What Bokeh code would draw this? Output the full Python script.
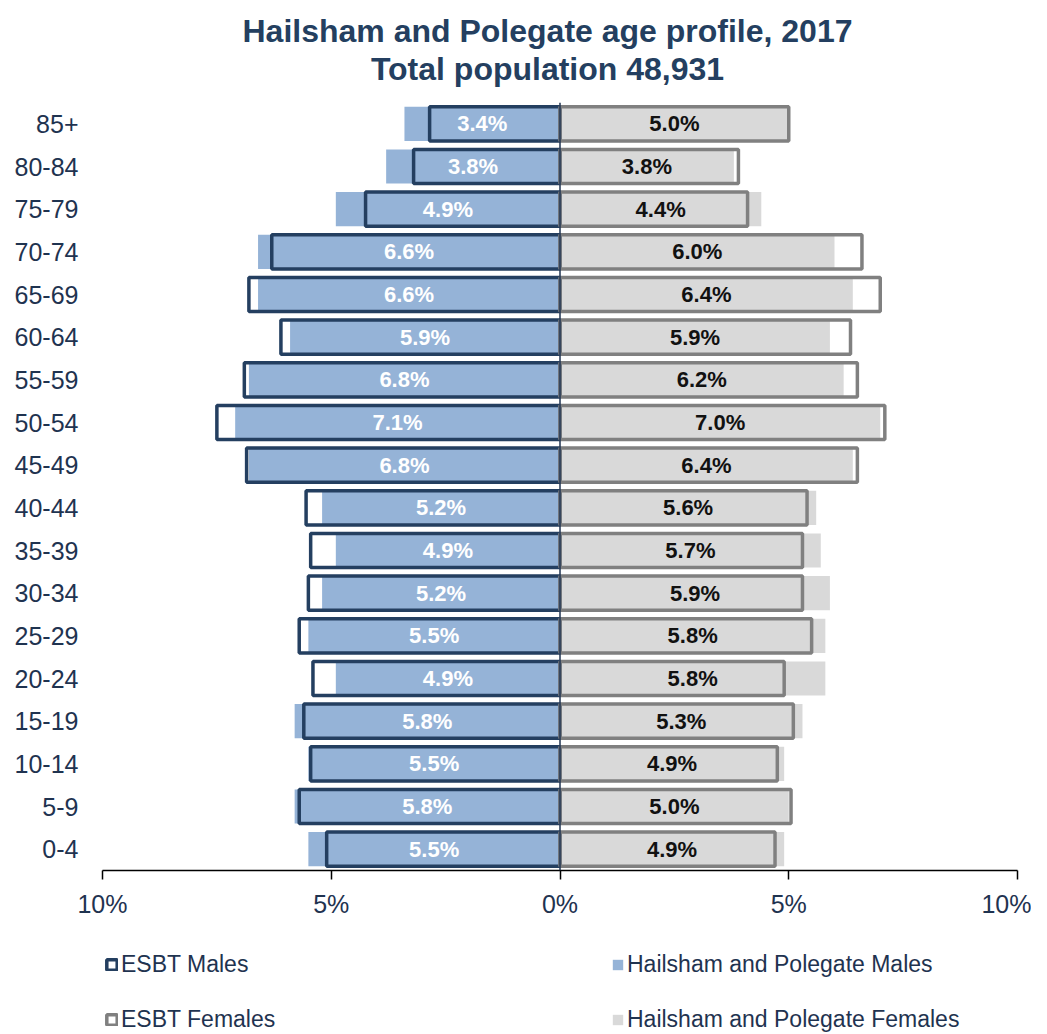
from bokeh.plotting import figure
from bokeh.layouts import column
from bokeh.models import (FactorRange, Range1d, FixedTicker, Span, Legend, LegendItem,
                          ColumnDataSource, Label)
from bokeh.core.properties import value
from bokeh.embed import file_html
from bokeh.resources import INLINE

# ---- data (bottom to top) ----
ages = ["0-4", "5-9", "10-14", "15-19", "20-24", "25-29", "30-34", "35-39", "40-44",
        "45-49", "50-54", "55-59", "60-64", "65-69", "70-74", "75-79", "80-84", "85+"]
hp_males = [5.5, 5.8, 5.5, 5.8, 4.9, 5.5, 5.2, 4.9, 5.2,
            6.8, 7.1, 6.8, 5.9, 6.6, 6.6, 4.9, 3.8, 3.4]
hp_females = [4.9, 5.0, 4.9, 5.3, 5.8, 5.8, 5.9, 5.7, 5.6,
              6.4, 7.0, 6.2, 5.9, 6.4, 6.0, 4.4, 3.8, 5.0]
esbt_males = [5.1, 5.7, 5.45, 5.6, 5.4, 5.7, 5.5, 5.45, 5.55,
              6.85, 7.5, 6.9, 6.1, 6.8, 6.3, 4.25, 3.2, 2.85]
esbt_females = [4.7, 5.05, 4.75, 5.1, 4.9, 5.5, 5.3, 5.3, 5.4,
                6.5, 7.1, 6.5, 6.35, 7.0, 6.6, 4.1, 3.9, 5.0]
tick_values = [-10, -5, 0, 5, 10]
tick_labels = ["10%", "5%", "0%", "5%", "10%"]
title_line1 = "Hailsham and Polegate age profile, 2017"
title_line2 = "Total population 48,931"
legend_labels = ["ESBT Males", "Hailsham and Polegate Males",
                 "ESBT Females", "Hailsham and Polegate Females"]

NAVY = "#1F3350"
TITLE_C = "#243F60"
M_FILL = "#95B3D7"
F_FILL = "#D9D9D9"
M_LINE = "#243F60"
F_LINE = "#808080"
FONT = "Liberation Sans"
W = 1031
BL, BR = 102, 14

src = ColumnDataSource(dict(
    age=ages,
    hp_m_left=[-v for v in hp_males],
    hp_f=hp_females,
    es_m_left=[-v for v in esbt_males],
    es_f=esbt_females,
    m_lab_x=[-v / 2 for v in hp_males],
    f_lab_x=[v / 2 for v in hp_females],
    m_lab=[f"{v:.1f}%" for v in hp_males],
    f_lab=[f"{v:.1f}%" for v in hp_females],
))

# ---- title strip ----
tf = figure(width=W, height=102, title=None, x_range=Range1d(0, 1), y_range=Range1d(0, 1),
            x_axis_location=None, y_axis_location=None,
            output_backend="svg", toolbar_location=None,
            min_border_left=BL, min_border_right=BR, min_border_top=0, min_border_bottom=0)
tf.grid.visible = False
tf.outline_line_color = None
for txt, yy in ((title_line1, 72), (title_line2, 34)):
    tf.add_layout(Label(x=445, y=yy, x_units="screen", y_units="screen", text=txt,
                        text_align="center", text_baseline="middle", text_font=FONT,
                        text_font_size="32px", text_font_style="bold", text_color=TITLE_C))

# ---- main pyramid ----
p = figure(width=W, height=828, title=None,
           y_range=FactorRange(factors=ages, range_padding=0),
           x_range=Range1d(-10, 10),
           output_backend="svg", toolbar_location=None,
           min_border_left=BL, min_border_right=BR,
           min_border_top=0, min_border_bottom=60)
p.outline_line_color = None
p.xgrid.visible = False
p.ygrid.visible = False

H = 0.8
p.hbar(y="age", left="hp_m_left", right=0, height=H, source=src,
       fill_color=M_FILL, line_color=None)
p.hbar(y="age", left=0, right="hp_f", height=H, source=src,
       fill_color=F_FILL, line_color=None)
p.hbar(y="age", left="es_m_left", right=0, height=H, source=src,
       fill_color=None, line_color=M_LINE, line_width=3.5)
p.hbar(y="age", left=0, right="es_f", height=H, source=src,
       fill_color=None, line_color=F_LINE, line_width=3.5)

p.add_layout(Span(location=0, dimension="height", line_color=NAVY, line_width=1.5))

p.text(x="m_lab_x", y="age", text="m_lab", source=src, text_align="center",
       text_baseline="middle", text_color="white", text_font=value(FONT),
       text_font_size="22px", text_font_style="bold")
p.text(x="f_lab_x", y="age", text="f_lab", source=src, text_align="center",
       text_baseline="middle", text_color="#111111", text_font=value(FONT),
       text_font_size="22px", text_font_style="bold")

xa = p.xaxis[0]
xa.ticker = FixedTicker(ticks=tick_values)
xa.major_label_overrides = {t: l for t, l in zip(tick_values, tick_labels)}
xa.minor_tick_line_color = None
xa.major_tick_in = 0
xa.major_tick_out = 9
xa.major_tick_line_color = "black"
xa.major_tick_line_width = 1.5
xa.axis_line_color = "black"
xa.axis_line_width = 1.5
xa.major_label_text_font = FONT
xa.major_label_text_font_size = "25px"
xa.major_label_text_color = NAVY
xa.major_label_standoff = 10

ya = p.yaxis[0]
ya.axis_line_color = None
ya.major_tick_line_color = None
ya.major_tick_in = 0
ya.major_tick_out = 0
ya.minor_tick_line_color = None
ya.major_label_text_font = FONT
ya.major_label_text_font_size = "25px"
ya.major_label_text_color = NAVY
ya.major_label_standoff = 24

# ---- legend strip: legend-only figure (its categorical bars map to nothing on a numeric y range) ----
lf = figure(width=W, height=104, title=None, x_range=Range1d(-10, 10), y_range=Range1d(0, 1),
            x_axis_location=None, y_axis_location=None,
            output_backend="svg", toolbar_location=None,
            min_border_left=BL, min_border_right=BR, min_border_top=0, min_border_bottom=0)
lf.grid.visible = False
lf.outline_line_color = None
l_es_m = lf.hbar(y="age", left="es_m_left", right=0, height=H, source=src,
                 fill_color="white", line_color=M_LINE, line_width=3.5)
l_hp_m = lf.hbar(y="age", left="hp_m_left", right=0, height=H, source=src,
                 fill_color=M_FILL, line_color=None)
l_es_f = lf.hbar(y="age", left=0, right="es_f", height=H, source=src,
                 fill_color="white", line_color=F_LINE, line_width=3.5)
l_hp_f = lf.hbar(y="age", left=0, right="hp_f", height=H, source=src,
                 fill_color=F_FILL, line_color=None)

legend = Legend(items=[
    LegendItem(label=legend_labels[0], renderers=[l_es_m]),
    LegendItem(label=legend_labels[1], renderers=[l_hp_m]),
    LegendItem(label=legend_labels[2], renderers=[l_es_f]),
    LegendItem(label=legend_labels[3], renderers=[l_hp_f]),
], ncols=2, orientation="horizontal", location=(3, 1),
    glyph_width=13, glyph_height=13, label_height=20, label_width=462,
    label_standoff=3, spacing=28, padding=0, margin=0,
    border_line_color=None, background_fill_alpha=0,
    label_text_font=FONT, label_text_font_size="23px", label_text_color=NAVY)
lf.add_layout(legend, "center")

open("out.html", "w").write(file_html(column(tf, p, lf), INLINE))
